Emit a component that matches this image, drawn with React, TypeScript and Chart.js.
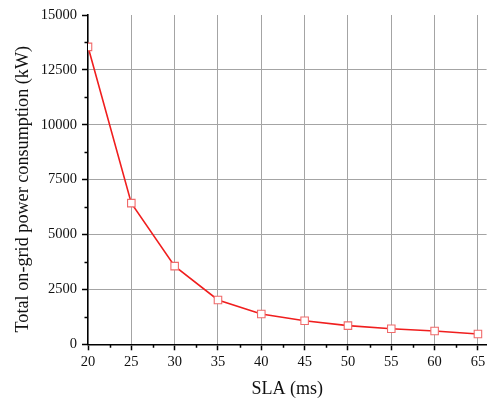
import React, { useEffect, useRef } from "react";
import { Chart, registerables } from "chart.js";

Chart.register(...registerables);

const slaMs = [20, 25, 30, 35, 40, 45, 50, 55, 60, 65];
const powerKW = [13550, 6430, 3560, 2020, 1380, 1075, 850, 710, 605, 470];
const xTicks = [20, 25, 30, 35, 40, 45, 50, 55, 60, 65];
const yTicks = [0, 2500, 5000, 7500, 10000, 12500, 15000];
const xMinor = [22.5, 27.5, 32.5, 37.5, 42.5, 47.5, 52.5, 57.5, 62.5];
const yMinor = [1250, 3750, 6250, 8750, 11250, 13750];
const yTitle = "Total on-grid power consumption (kW)";
const xTitle = "SLA (ms)";

const FONT = "'Liberation Serif', 'Times New Roman', serif";

const extras = {
  id: "extras",
  afterDraw(chart: any) {
    const { ctx, chartArea } = chart;
    const xs = chart.scales.x;
    const ys = chart.scales.y;
    ctx.save();
    ctx.strokeStyle = "#000";
    ctx.lineWidth = 1.5;
    ctx.beginPath();
    xMinor.forEach((v) => {
      const px = Math.round(xs.getPixelForValue(v)) + 0.5;
      ctx.moveTo(px, chartArea.bottom);
      ctx.lineTo(px, chartArea.bottom + 3.5);
    });
    yMinor.forEach((v) => {
      const py = Math.round(ys.getPixelForValue(v)) + 0.5;
      ctx.moveTo(chartArea.left, py);
      ctx.lineTo(chartArea.left - 3.5, py);
    });
    ctx.stroke();
    // y axis title
    ctx.fillStyle = "#111";
    ctx.font = `18.2px ${FONT}`;
    ctx.textAlign = "center";
    ctx.textBaseline = "middle";
    ctx.translate(23, (chartArea.top + chartArea.bottom) / 2 + 9.5);
    ctx.rotate(-Math.PI / 2);
    ctx.fillText(yTitle, 0, 0);
    ctx.restore();
  },
};

export default function App() {
  const ref = useRef<HTMLCanvasElement | null>(null);

  useEffect(() => {
    if (!ref.current) return;
    const chart = new Chart(ref.current, {
      type: "line",
      data: {
        datasets: [
          {
            data: slaMs.map((x, i) => ({ x, y: powerKW[i] })),
            borderColor: "#f01e1e",
            borderWidth: 1.6,
            tension: 0,
            pointStyle: "rect",
            pointRadius: 5.3,
            pointBackgroundColor: "#ffffff",
            pointBorderColor: "#f06a6a",
            pointBorderWidth: 1.1,
          },
        ],
      },
      options: {
        animation: false,
        responsive: false,
        layout: { padding: { left: 0, right: 3, top: 15, bottom: 0 } },
        plugins: { legend: { display: false }, tooltip: { enabled: false } },
        scales: {
          x: {
            type: "linear",
            min: 20,
            max: 66,
            afterBuildTicks: (scale: any) => {
              scale.ticks = xTicks.map((v) => ({ value: v }));
            },
            afterFit: (scale: any) => {
              scale.height = 58.7;
            },
            ticks: {
              includeBounds: false,
              stepSize: 5,
              padding: 3,
              color: "#111",
              font: { family: FONT, size: 14.5 },
              callback: (v: any) => String(v),
            },
            grid: {
              color: (c: any) => (c.tick && c.tick.value === 20 ? "rgba(0,0,0,0)" : "#a4a4a4"),
              lineWidth: 1,
              tickColor: "#000",
              tickLength: 6,
              tickWidth: 1.5,
            },
            border: { color: "#000", width: 1.6 },
            title: {
              display: true,
              text: xTitle,
              color: "#111",
              font: { family: FONT, size: 18 },
              padding: { top: 0, bottom: 2.5 },
            },
          },
          y: {
            type: "linear",
            min: 0,
            max: 15000,
            afterBuildTicks: (scale: any) => {
              scale.ticks = yTicks.map((v) => ({ value: v }));
            },
            afterFit: (scale: any) => {
              scale.width = 88;
            },
            ticks: {
              stepSize: 2500,
              padding: 5,
              color: "#111",
              font: { family: FONT, size: 14.5 },
              callback: (v: any) => String(v),
            },
            grid: {
              color: (c: any) =>
                c.tick && (c.tick.value === 15000 || c.tick.value === 0) ? "rgba(0,0,0,0)" : "#a4a4a4",
              lineWidth: 1,
              tickColor: "#000",
              tickLength: 6,
              tickWidth: 1.5,
            },
            border: { color: "#000", width: 1.6 },
            title: { display: false },
          },
        },
      },
      plugins: [extras],
    } as any);
    return () => chart.destroy();
  }, []);

  return (
    <div style={{ position: "absolute", left: 0, top: 0, width: 493, height: 403, background: "#fff" }}>
      <canvas ref={ref} width={493} height={403} style={{ display: "block" }} />
    </div>
  );
}
